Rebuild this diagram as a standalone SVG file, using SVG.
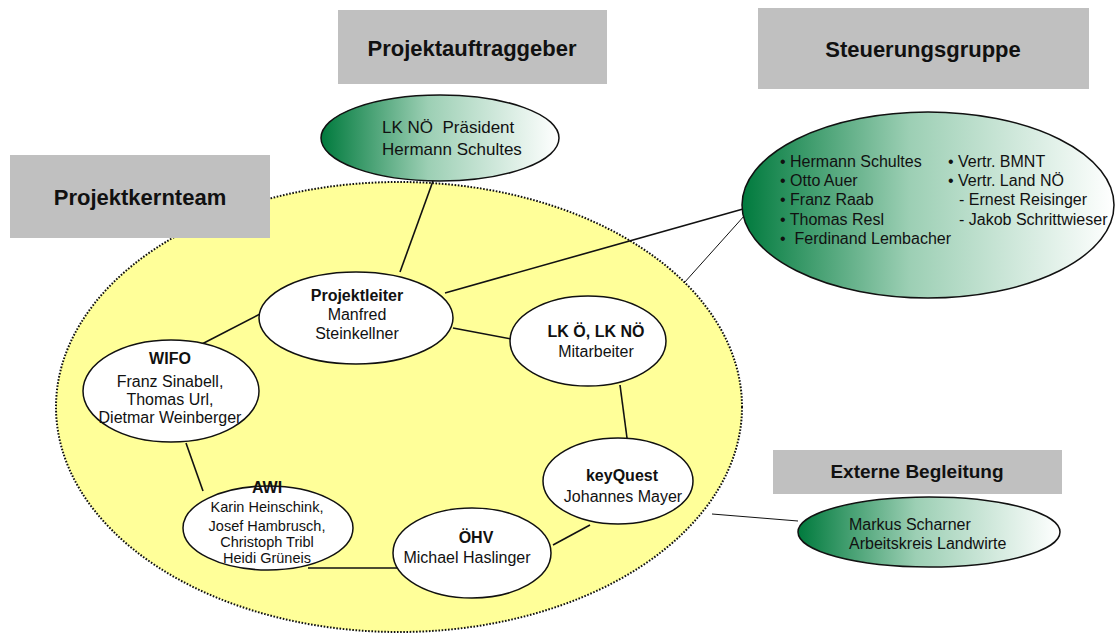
<svg xmlns="http://www.w3.org/2000/svg" width="1116" height="634" viewBox="0 0 1116 634">
<defs>
<linearGradient id="g" x1="0" y1="0" x2="1" y2="0">
<stop offset="0" stop-color="#007a3d"/>
<stop offset="0.45" stop-color="#9ccfb4"/>
<stop offset="1" stop-color="#ffffff"/>
</linearGradient>
</defs>
<style>
text{font-family:"Liberation Sans",Arial,sans-serif;fill:#111;white-space:pre}
.box{fill:#c0c0c0}
.title{font-size:22px;font-weight:bold}
.n{fill:#fff;stroke:#111;stroke-width:1.5}
.gn{fill:url(#g);stroke:#111;stroke-width:1.5}
.t{font-size:16px}
.b{font-size:16px;font-weight:bold}
.s{font-size:14.5px}
.c{text-anchor:middle}
.ln{stroke:#111;stroke-width:1.6;fill:none}
.thin{stroke:#111;stroke-width:1;fill:none}
</style>
<rect width="1116" height="634" fill="#fff"/>
<g id="kernteam-area">
<ellipse cx="399" cy="407" rx="343" ry="225" fill="#ffff99" stroke="#111" stroke-width="2" stroke-dasharray="1.6 1.6"/>
</g>
<g id="projektkernteam-label">
<rect class="box" x="10" y="155" width="260" height="83"/>
<text class="title c" x="140" y="205">Projektkernteam</text>
</g>
<g id="projektauftraggeber-label">
<rect class="box" x="338" y="10" width="269" height="74"/>
<text class="title c" x="472" y="56">Projektauftraggeber</text>
</g>
<g id="steuerungsgruppe-label">
<rect class="box" x="758" y="8" width="331" height="81"/>
<text class="title c" x="923" y="57">Steuerungsgruppe</text>
</g>
<g id="externe-label">
<rect class="box" x="773" y="450" width="289" height="44"/>
<text class="c" x="917" y="478" style="font-size:19px;font-weight:bold">Externe Begleitung</text>
</g>
<g id="connectors">
<line class="ln" x1="433" y1="181" x2="400" y2="272"/>
<line class="ln" x1="445" y1="293" x2="743" y2="209"/>
<line class="thin" x1="745" y1="215" x2="684" y2="283"/>
<line class="ln" x1="453" y1="328" x2="511" y2="339"/>
<line class="ln" x1="200" y1="345" x2="260" y2="314"/>
<line class="ln" x1="620" y1="385" x2="627" y2="438"/>
<line class="ln" x1="590" y1="525" x2="553" y2="545"/>
<line class="ln" x1="308" y1="568" x2="397" y2="568"/>
<line class="ln" x1="186" y1="443" x2="203" y2="491"/>
<line class="thin" x1="712" y1="514" x2="798" y2="521"/>
</g>
<g id="praesident">
<ellipse class="gn" cx="440" cy="138" rx="119" ry="43"/>
<text class="t" x="382" y="133" style="font-size:17px">LK NÖ  Präsident</text>
<text class="t" x="382" y="155" style="font-size:17px">Hermann Schultes</text>
</g>
<g id="steuerungsgruppe">
<ellipse class="gn" cx="928" cy="205" rx="186" ry="93"/>
<text class="t" x="780" y="167">• Hermann Schultes</text>
<text class="t" x="780" y="186">• Otto Auer</text>
<text class="t" x="780" y="205">• Franz Raab</text>
<text class="t" x="780" y="225">• Thomas Resl</text>
<text class="t" x="780" y="244">•  Ferdinand Lembacher</text>
<text class="t" x="948" y="167">• Vertr. BMNT</text>
<text class="t" x="948" y="186">• Vertr. Land NÖ</text>
<text class="t" x="959" y="205">- Ernest Reisinger</text>
<text class="t" x="959" y="225">- Jakob Schrittwieser</text>
</g>
<g id="externe">
<ellipse class="gn" cx="929" cy="532" rx="131" ry="35"/>
<text class="t" x="849" y="530">Markus Scharner</text>
<text class="t" x="849" y="549">Arbeitskreis Landwirte</text>
</g>
<g id="projektleiter">
<ellipse class="n" cx="356" cy="318" rx="97" ry="46"/>
<text class="b c" x="357" y="301">Projektleiter</text>
<text class="t c" x="357" y="320">Manfred</text>
<text class="t c" x="357" y="339">Steinkellner</text>
</g>
<g id="lk">
<ellipse class="n" cx="588" cy="341" rx="78" ry="45"/>
<text class="b c" x="596" y="337">LK Ö, LK NÖ</text>
<text class="t c" x="596" y="357">Mitarbeiter</text>
</g>
<g id="wifo">
<ellipse class="n" cx="171" cy="391" rx="88" ry="51"/>
<text class="b c" x="170" y="364">WIFO</text>
<text class="t c" x="170" y="387">Franz Sinabell,</text>
<text class="t c" x="170" y="405">Thomas Url,</text>
<text class="t c" x="170" y="423">Dietmar Weinberger</text>
</g>
<g id="awi">
<ellipse class="n" cx="268" cy="528" rx="85" ry="42"/>
<text class="b c" x="267" y="493">AWI</text>
<text class="s c" x="267" y="512">Karin Heinschink,</text>
<text class="s c" x="267" y="531">Josef Hambrusch,</text>
<text class="s c" x="267" y="547">Christoph Tribl</text>
<text class="s c" x="267" y="563">Heidi Grüneis</text>
</g>
<g id="oehv">
<ellipse class="n" cx="472" cy="553" rx="79" ry="45"/>
<text class="b c" x="476" y="543">ÖHV</text>
<text class="t c" x="467" y="563">Michael Haslinger</text>
</g>
<g id="keyquest">
<ellipse class="n" cx="618" cy="481" rx="75" ry="43"/>
<text class="b c" x="622" y="481">keyQuest</text>
<text class="t c" x="623" y="502">Johannes Mayer</text>
</g>
</svg>
